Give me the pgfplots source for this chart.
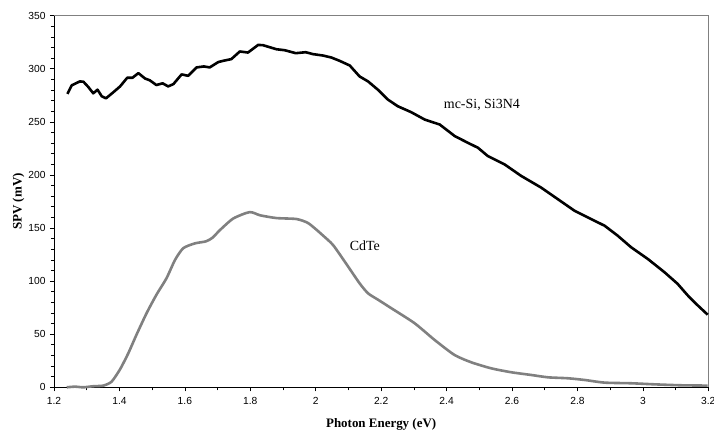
\documentclass[border=0pt]{standalone}
\usepackage{fontspec}
\setmainfont{Liberation Serif}
\newfontfamily\arialfont{Liberation Sans}
\usepackage{pgfplots}
\pgfplotsset{compat=1.18}
\definecolor{cdgray}{RGB}{128,128,128}
\begin{document}
\begin{tikzpicture}
\begin{axis}[
  scale only axis,
  width=654.3bp, height=371.6bp,
  xmin=1.2, xmax=3.2, ymin=0, ymax=350,
  axis x line*=bottom, axis y line*=left,
  axis line style={black, line width=0.9bp},
  xtick={1.2,1.4,...,3.2},
  ytick={0,50,...,350},
  minor x tick num=1,
  minor y tick num=4,
  tick align=outside,
  major tick length=4bp, minor tick length=3bp,
  tick style={black, line width=0.7bp},
  /pgf/number format/assume math mode=true,
  ticklabel style={font=\arialfont\fontsize{10.3}{11}\selectfont},
  xticklabel style={yshift=-3bp},
  yticklabel style={xshift=-1bp},
  xlabel={\bfseries Photon Energy (eV)},
  ylabel={\bfseries SPV (mV)},
  label style={font=\fontsize{13}{15}\selectfont},
  xlabel style={at={(axis description cs:0.5,0)}, anchor=north, yshift=-28bp},
  ylabel style={at={(axis description cs:0,0.5)}, anchor=south, xshift=0bp, yshift=26bp},
  clip=false,
]
\draw[cdgray, line width=0.9bp] (rel axis cs:0,1) -- (rel axis cs:1,1) -- (rel axis cs:1,0);
\addplot[black, line width=2.6bp, line join=round] coordinates {
(1.241,276.3) (1.254,284.4) (1.279,288.1) (1.290,287.8) (1.305,282.8) (1.320,276.9)
(1.333,280.3) (1.346,274.1) (1.359,272.2) (1.381,277.8) (1.402,283.4) (1.424,291.6)
(1.440,291.6) (1.458,295.9) (1.478,290.9) (1.493,289.1) (1.513,284.7) (1.532,286.3)
(1.549,283.4) (1.565,285.6) (1.590,294.7) (1.610,293.4) (1.636,301.3) (1.658,302.2)
(1.676,301.3) (1.702,306.3) (1.717,307.5) (1.742,309.1) (1.768,316.3) (1.793,315.3)
(1.824,322.5) (1.839,322.2) (1.880,318.4) (1.905,317.5) (1.939,314.7) (1.969,315.6)
(1.992,313.8) (2.022,312.5) (2.048,310.6) (2.073,307.5) (2.104,303.1) (2.134,292.8)
(2.160,288.1) (2.190,280.3) (2.221,270.9) (2.251,264.7) (2.292,259.1) (2.333,252.2)
(2.379,247.5) (2.425,236.6) (2.465,230.3) (2.496,225.6) (2.526,217.8) (2.577,210.0)
(2.628,199.1) (2.689,188.1) (2.740,177.2) (2.791,166.3) (2.842,158.4) (2.883,152.2)
(2.923,142.8) (2.964,131.9) (3.015,120.9) (3.066,108.4) (3.106,97.5) (3.137,86.6)
(3.162,78.8) (3.198,68.4)
};
\addplot[cdgray, line width=2.6bp, smooth, tension=0.4] coordinates {
(1.239,0) (1.264,0.6) (1.290,0) (1.320,1) (1.351,1.6) (1.376,5.3) (1.402,17)
(1.427,32) (1.452,49.4) (1.483,69.8) (1.513,87.1) (1.544,102.8) (1.570,120)
(1.595,131) (1.630,135.5) (1.665,137.5) (1.685,141) (1.707,148) (1.748,159)
(1.798,165) (1.830,162) (1.880,159.4) (1.941,158.5) (1.975,155) (2.000,149)
(2.022,143) (2.053,134) (2.094,116) (2.134,98) (2.160,88.5) (2.191,82.4)
(2.231,74.5) (2.302,60.4) (2.363,44.7) (2.424,30.5) (2.475,23.6) (2.536,17.9)
(2.597,14.2) (2.659,11.6) (2.710,9.4) (2.771,8.5) (2.822,6.9) (2.883,4.4)
(2.964,3.8) (3.035,2.8) (3.116,1.9) (3.198,1.6)
};
\node[font=\fontsize{14}{16}\selectfont] at (axis cs:2.508,266) {mc-Si, Si3N4};
\node[font=\fontsize{14}{16}\selectfont] at (axis cs:2.150,133) {CdTe};
\end{axis}
\pgfresetboundingbox
\path[use as bounding box] ([shift={(-54bp,-42.7bp)}]current axis.south west) rectangle ([shift={(5.7bp,15.7bp)}]current axis.north east);
\end{tikzpicture}
\end{document}
